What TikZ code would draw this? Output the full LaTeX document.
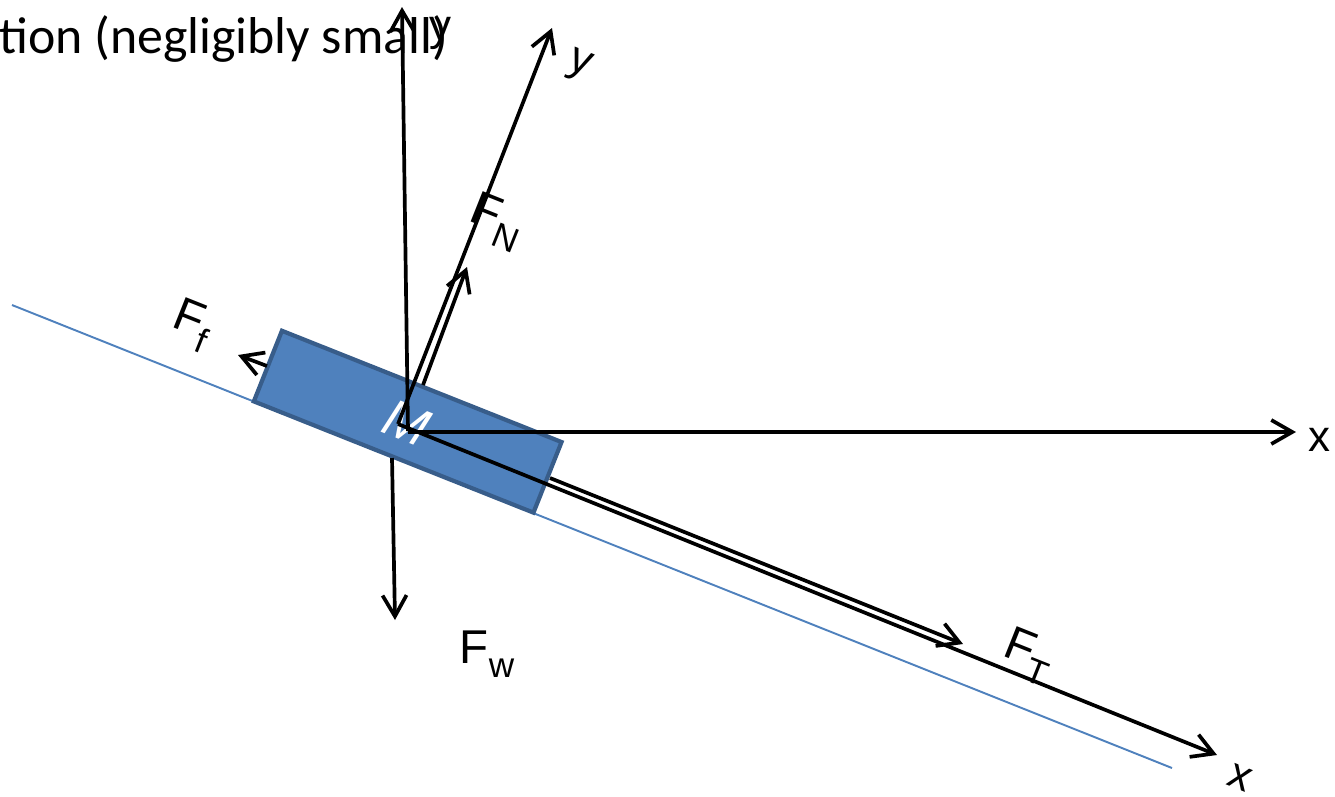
\documentclass[tikz,border=0pt]{standalone}
\usepackage{fontspec}
\setmainfont{Liberation Sans}
\newfontfamily\calfont{Carlito}
\usetikzlibrary{arrows.meta}
\definecolor{cBlock}{RGB}{79,129,189}
\definecolor{cBlockEdge}{RGB}{56,93,138}
\definecolor{cSlope}{RGB}{79,129,189}
\newcommand{\fsub}[1]{\raisebox{-0.3em}{\fontsize{20}{20}\selectfont #1}}

\begin{document}
\begin{tikzpicture}[
  x=0.02cm, y=-0.02cm,
  vec/.style={-{Straight Barb[length=4.2mm, width=4.8mm]}, line width=2.1pt, black},
  lbl/.style={inner sep=0pt, font=\fontsize{27}{27}\selectfont},
  axlbl/.style={inner sep=0pt, font=\fontsize{25}{25}\selectfont},
  tilt/.style={rotate=-21.7},
  block/.style={draw=cBlockEdge, fill=cBlock, line width=2.4pt,
    minimum width=6.02cm, minimum height=1.52cm, inner sep=0pt, rotate=-21.7},
]
\useasboundingbox (0,0) rectangle (1335,796);

% Heading, cut at the left edge
\node[anchor=base west, inner sep=0pt, font=\calfont\fontsize{29.5}{29.5}\selectfont]
  (note) at (-1,53) {tion (negligibly small)};

% Slope and block
\coordinate (s1) at (12,305);
\coordinate (s2) at (1172,768);
\draw[cSlope, line width=1.1pt] (s1) -- (s2);
\node[block] (blk) at (407.7,421.7) {};
\node[tilt, text=white, inner sep=0pt, font=\itshape\fontsize{30}{30}\selectfont]
  (mass) at (407,423) {M};

% Forces
\coordinate (ftA) at (550,478);
\coordinate (ftB) at (963,644);
\coordinate (fnA) at (423,385);
\coordinate (fnB) at (467,267);
\coordinate (ffA) at (267,366);
\coordinate (ffB) at (238,355);
\coordinate (fwA) at (392,458);
\coordinate (fwB) at (395,620);
\draw[vec] (ftA) -- (ftB);
\draw[vec] (fnA) -- (fnB);
\draw[vec] (ffA) -- (ffB);
\draw[vec] (fwA) -- (fwB);

% Upright axes
\coordinate (O) at (408,431);
\coordinate (yup) at (402,7);
\coordinate (xright) at (1296,432);
\draw[vec] (O) -- (yup);
\draw[vec] (O |- xright) -- (xright);

% Tilted axes
\coordinate (Ot) at (398,424);
\coordinate (ytilt) at (552,28);
\coordinate (xtilt) at (1217,755);
\draw[vec] (Ot) -- (ytilt);
\draw[vec] (Ot) -- (xtilt);

% Labels
\node[axlbl] (ylbl) at (440,33) {y};
\node[axlbl] (xlbl) at (1319,440) {x};
\node[axlbl, tilt] (ytlbl) at (579,66) {y};
\node[axlbl, tilt] (xtlbl) at (1240,778) {x};
\node[lbl] (fwlbl) at (487,654) {F\fsub{w}};
\node[lbl, tilt] (fnlbl) at (496,222) {F\fsub{N}};
\node[lbl, tilt] (ftlbl) at (1028,656) {F\fsub{T}};
\node[lbl, tilt] (fflbl) at (192,325) {F\fsub{f}};

\end{tikzpicture}
\end{document}
